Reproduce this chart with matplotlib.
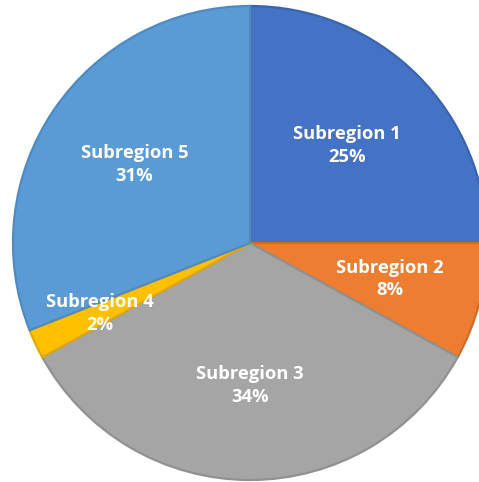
import numpy as np
import matplotlib
matplotlib.use("Agg")
import matplotlib.pyplot as plt

# slice data (clockwise from 12 o'clock)
labels = ["Subregion 1", "Subregion 2", "Subregion 3", "Subregion 4", "Subregion 5"]
shares = [25, 8, 34, 2, 31]
colors = ["#4472C4", "#ED7D31", "#A5A5A5", "#FFC000", "#5B9BD5"]
edges = ["#3A64AE", "#D06B27", "#919191", "#E0A800", "#4F8AC0"]
label_dist = [0.58, 0.61, 0.60, 0.70, 0.59]

W, H, DPI = 479, 482, 100
fig = plt.figure(figsize=(W / DPI, H / DPI), dpi=DPI)
cx, cy, R = 250, H - 243, 237
ax = fig.add_axes([(cx - R) / W, (cy - R) / H, 2 * R / W, 2 * R / H])

wedges, _ = ax.pie(shares, colors=colors, startangle=90, counterclock=False,
                   radius=1.0, wedgeprops=dict(linewidth=1.6))
for w, ec in zip(wedges, edges):
    w.set_edgecolor(ec)

for w, lab, pct, d in zip(wedges, labels, shares, label_dist):
    mid = np.deg2rad((w.theta1 + w.theta2) / 2)
    ax.text(d * np.cos(mid), d * np.sin(mid), f"{lab}\n{pct}%",
            ha="center", va="center", color="white", fontsize=13.2,
            fontweight="bold", family="Open Sans", linespacing=1.35)

ax.set_xlim(-1.0, 1.0)
ax.set_ylim(-1.0, 1.0)
ax.axis("off")

fig.savefig("out.png", dpi=DPI)
